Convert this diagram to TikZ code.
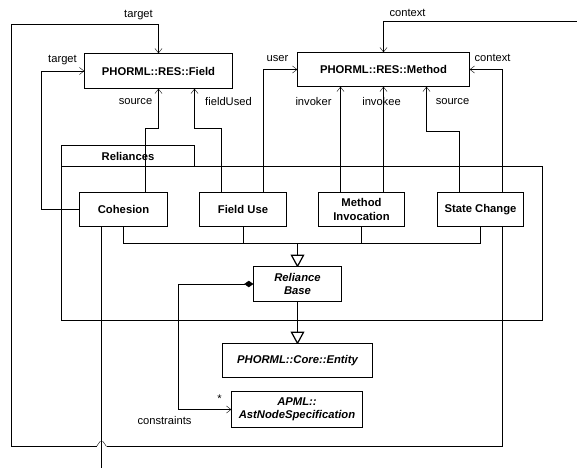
\documentclass[tikz,border=0pt]{standalone}
\usepackage{fontspec}
\setmainfont{Liberation Sans}
\usetikzlibrary{arrows.meta}
\pgfdeclarelayer{bg}
\pgfdeclarelayer{wires}
\pgfsetlayers{bg,wires,main}
\begin{document}
\begin{tikzpicture}[x=1bp,y=-1bp,line width=1bp,
  cls/.style={draw,fill=white,inner sep=0pt,align=center,
    font=\bfseries\fontsize{11.3}{13.5}\selectfont},
  abscls/.style={cls,font=\bfseries\itshape\fontsize{11.3}{13.5}\selectfont},
  lbl/.style={inner sep=0pt,font=\fontsize{11.2}{13}\selectfont},
  nav/.style={-{Straight Barb[length=4.5bp,width=7bp]}},
  gentip/.style={fill=white,line width=1.2bp},
  comp/.style={{Diamond[length=9bp,width=6.5bp]}-{Straight Barb[length=4.5bp,width=7bp]}}]
\useasboundingbox (0,0) rectangle (577,468);

\begin{scope}[shift={(0.5,0.5)}]
% package frame
\begin{pgfonlayer}{bg}
  \node[draw,minimum width=481bp,minimum height=154bp,inner sep=0pt] (pkg) at (301.5,243) {};
  \node[draw,minimum width=133bp,minimum height=21bp,inner sep=0pt,
        font=\bfseries\fontsize{11.3}{13}\selectfont] (pkgtab) at (127.5,155.5) {Reliances};
\end{pgfonlayer}

% classes
\node[cls,minimum width=148bp,minimum height=35bp] (field)  at (158,70.5) {PHORML::RES::Field};
\node[cls,minimum width=172bp,minimum height=34bp] (method) at (383,69)   {PHORML::RES::Method};
\node[cls,minimum width=88bp,minimum height=34bp]  (coh)    at (123,209)   {Cohesion};
\node[cls,minimum width=87bp,minimum height=34bp]  (fu)     at (242.5,209) {Field Use};
\node[cls,minimum width=86bp,minimum height=34bp]  (mi)     at (361,209)   {Method\\Invocation};
\node[cls,minimum width=86bp,minimum height=34bp]  (sc)     at (480,209)   {State Change};
\node[abscls,minimum width=88bp,minimum height=35bp]  (rb)   at (297,283.5) {Reliance\\Base};
\node[abscls,minimum width=150bp,minimum height=34bp] (ent)  at (297,360)   {PHORML::Core::Entity};
\node[abscls,minimum width=131bp,minimum height=36bp] (apml) at (296.5,409) {APML::\\AstNodeSpecification};

% bend points
\coordinate (cs)  at (145,128);
\coordinate (fu1) at (221,128);
\coordinate (fu2) at (194,128);
\coordinate (us)  at (263,69);
\coordinate (ivr) at (340,0);
\coordinate (ive) at (383,0);
\coordinate (sm1) at (459,131);
\coordinate (sm2) at (426,131);
\coordinate (cx)  at (502,69);
\coordinate (tc)  at (577,21);
\coordinate (lp)  at (502,446);
\coordinate (hopR) at (106,446);
\coordinate (hopL) at (96,446);
\coordinate (off) at (101,468);
\coordinate (gj)  at (297,243);
\coordinate (cp)  at (178,284);

\begin{pgfonlayer}{wires}
  % associations to Field
  \draw[nav] (coh.west) -- ++(-38,0) |- (field.west);
  \draw[nav] (coh.north -| cs) -- (cs) -| (field.south);
  \draw[nav] (fu.north -| fu1) -- (fu1) -- (fu2) -- (field.south -| fu2);
  % long target link, hopping over the line below Cohesion
  \draw (sc.south -| lp) -- (lp) -- (hopR);
  \draw (hopR) -- (102.5,441) -- (99.5,441) -- (hopL);
  \draw[nav] (hopL) -- (11,446) -- (11,24) -| (field.north);
  % associations to Method
  \draw[nav] (fu.north -| us) |- (method.west);
  \draw[nav] (mi.north -| ivr) -- (method.south -| ivr);
  \draw[nav] (mi.north -| ive) -- (method.south -| ive);
  \draw[nav] (sc.north -| sm1) -- (sm1) -- (sm2) -- (method.south -| sm2);
  \draw[nav] (sc.north -| cx) |- (method.east);
  \draw[nav] (tc) -| (method.north);
  % continues below
  \draw (coh.south -| off) -- (off);
  % generalisations
  \draw (coh.south) -- (coh.south |- gj) -- (sc.south |- gj) -- (sc.south);
  \draw (fu.south) -- (fu.south |- gj);
  \draw (mi.south) -- (mi.south |- gj);
  \draw (gj) -- ([yshift=-11bp]rb.north);
  \draw[gentip] (rb.north) -- ++(-6,-11) -- ++(12,0) -- cycle;
  \draw (rb.south) -- ([yshift=-11bp]ent.north);
  \draw[gentip] (ent.north) -- ++(-6,-11) -- ++(12,0) -- cycle;
  % composition
  \draw[comp] (rb.west) -- (rb.west -| cp) |- (apml.west);
\end{pgfonlayer}

% role names
\node[lbl] (l1)  at (138,15)  {target};
\node[lbl] (l2)  at (62,60)   {target};
\node[lbl] (l3)  at (135,101) {source};
\node[lbl] (l4)  at (228,101) {fieldUsed};
\node[lbl] (l5)  at (277,58)  {user};
\node[lbl] (l6)  at (407,12)  {context};
\node[lbl] (l7)  at (313,101) {invoker};
\node[lbl] (l8)  at (381,101) {invokee};
\node[lbl] (l9)  at (452,101) {source};
\node[lbl] (l10) at (492,57)  {context};
\node[lbl] (l11) at (219,398) {*};
\node[lbl] (l12) at (164,420) {constraints};
\end{scope}
\end{tikzpicture}
\end{document}
